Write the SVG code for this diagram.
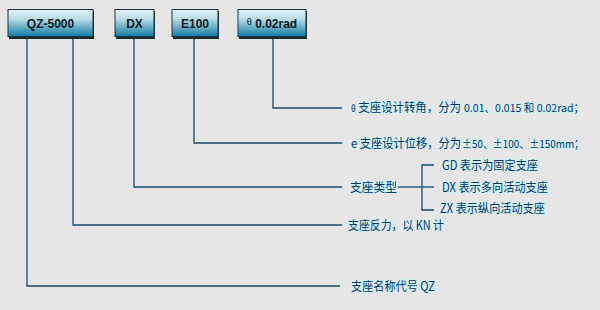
<svg xmlns="http://www.w3.org/2000/svg" width="600" height="310" viewBox="0 0 600 310">
<defs>
<linearGradient id="bg" x1="0" y1="0" x2="0" y2="1">
<stop offset="0" stop-color="#e4f2f5"/>
<stop offset="0.35" stop-color="#b9dde6"/>
<stop offset="1" stop-color="#137aa3"/>
</linearGradient>
<style>
.box{fill:url(#bg);stroke:#1c3440;stroke-width:1}
.sh{fill:#1c2a30}
.bt{font-family:"Liberation Sans","Noto Sans",sans-serif;font-weight:bold;font-size:12px;fill:#0a1a24;text-anchor:middle}
.ln{fill:none;stroke:#1d4a66;stroke-width:1.3}
.t{font-family:"Noto Sans CJK SC","Liberation Sans",sans-serif;font-size:12.5px;fill:#0c3566;stroke:#c8f4fa;stroke-width:1.6;paint-order:stroke;stroke-linejoin:round}
.s{font-size:11px}
</style>
</defs>
<rect width="600" height="310" fill="#e6e6e6"/>
<g id="connectors">
<polyline class="ln" points="27,37 27,286 340,286"/>
<polyline class="ln" points="73,37 73,225 342,225"/>
<polyline class="ln" points="134,37 134,187 342,187"/>
<polyline class="ln" points="194,37 194,143 342,143"/>
<polyline class="ln" points="273,37 273,108 342,108"/>
<line class="ln" x1="398" y1="187" x2="422" y2="187"/>
<polyline class="ln" points="434,165 422,165 422,210 434,210"/>
<line class="ln" x1="422" y1="187" x2="434" y2="187"/>
</g>
<g id="node-qz">
<rect class="sh" x="9" y="11" width="85" height="28"/>
<rect class="box" x="8" y="9.5" width="85" height="27"/>
<text class="bt" x="50.5" y="28">QZ-5000</text>
</g>
<g id="node-dx">
<rect class="sh" x="116" y="11" width="39" height="28"/>
<rect class="box" x="115" y="9.5" width="39" height="27"/>
<text class="bt" x="134.5" y="28">DX</text>
</g>
<g id="node-e100">
<rect class="sh" x="173" y="11" width="46" height="28"/>
<rect class="box" x="172" y="9.5" width="46" height="27"/>
<text class="bt" x="195" y="28">E100</text>
</g>
<g id="node-theta">
<rect class="sh" x="239" y="11" width="68" height="28"/>
<rect class="box" x="238" y="9.5" width="68" height="27"/>
<text class="bt" x="272" y="28"><tspan font-size="9" font-weight="normal" dy="-3">θ</tspan><tspan dy="3"> 0.02rad</tspan></text>
</g>
<g id="label-theta">
<text class="t" x="351" y="112" textLength="110" lengthAdjust="spacingAndGlyphs"><tspan font-size="9">θ</tspan> 支座设计转角，分为</text>
<text class="t s" x="464" y="112" textLength="120" lengthAdjust="spacingAndGlyphs">0.01、0.015 和 0.02rad；</text>
</g>
<g id="label-e">
<text class="t" x="351" y="148" textLength="110" lengthAdjust="spacingAndGlyphs">e 支座设计位移，分为</text>
<text class="t s" x="462" y="148" textLength="122" lengthAdjust="spacingAndGlyphs">±50、±100、±150mm；</text>
</g>
<g id="label-type"><text class="t" x="350" y="192" textLength="47" lengthAdjust="spacingAndGlyphs">支座类型</text></g>
<g id="label-gd"><text class="t" x="442" y="170" textLength="96" lengthAdjust="spacingAndGlyphs">GD 表示为固定支座</text></g>
<g id="label-dx"><text class="t" x="442" y="192" textLength="106" lengthAdjust="spacingAndGlyphs">DX 表示多向活动支座</text></g>
<g id="label-zx"><text class="t" x="440" y="213" textLength="105" lengthAdjust="spacingAndGlyphs">ZX 表示纵向活动支座</text></g>
<g id="label-force"><text class="t" x="348" y="230" textLength="96" lengthAdjust="spacingAndGlyphs">支座反力，以 KN 计</text></g>
<g id="label-name"><text class="t" x="351" y="291" textLength="84" lengthAdjust="spacingAndGlyphs">支座名称代号 QZ</text></g>
</svg>
